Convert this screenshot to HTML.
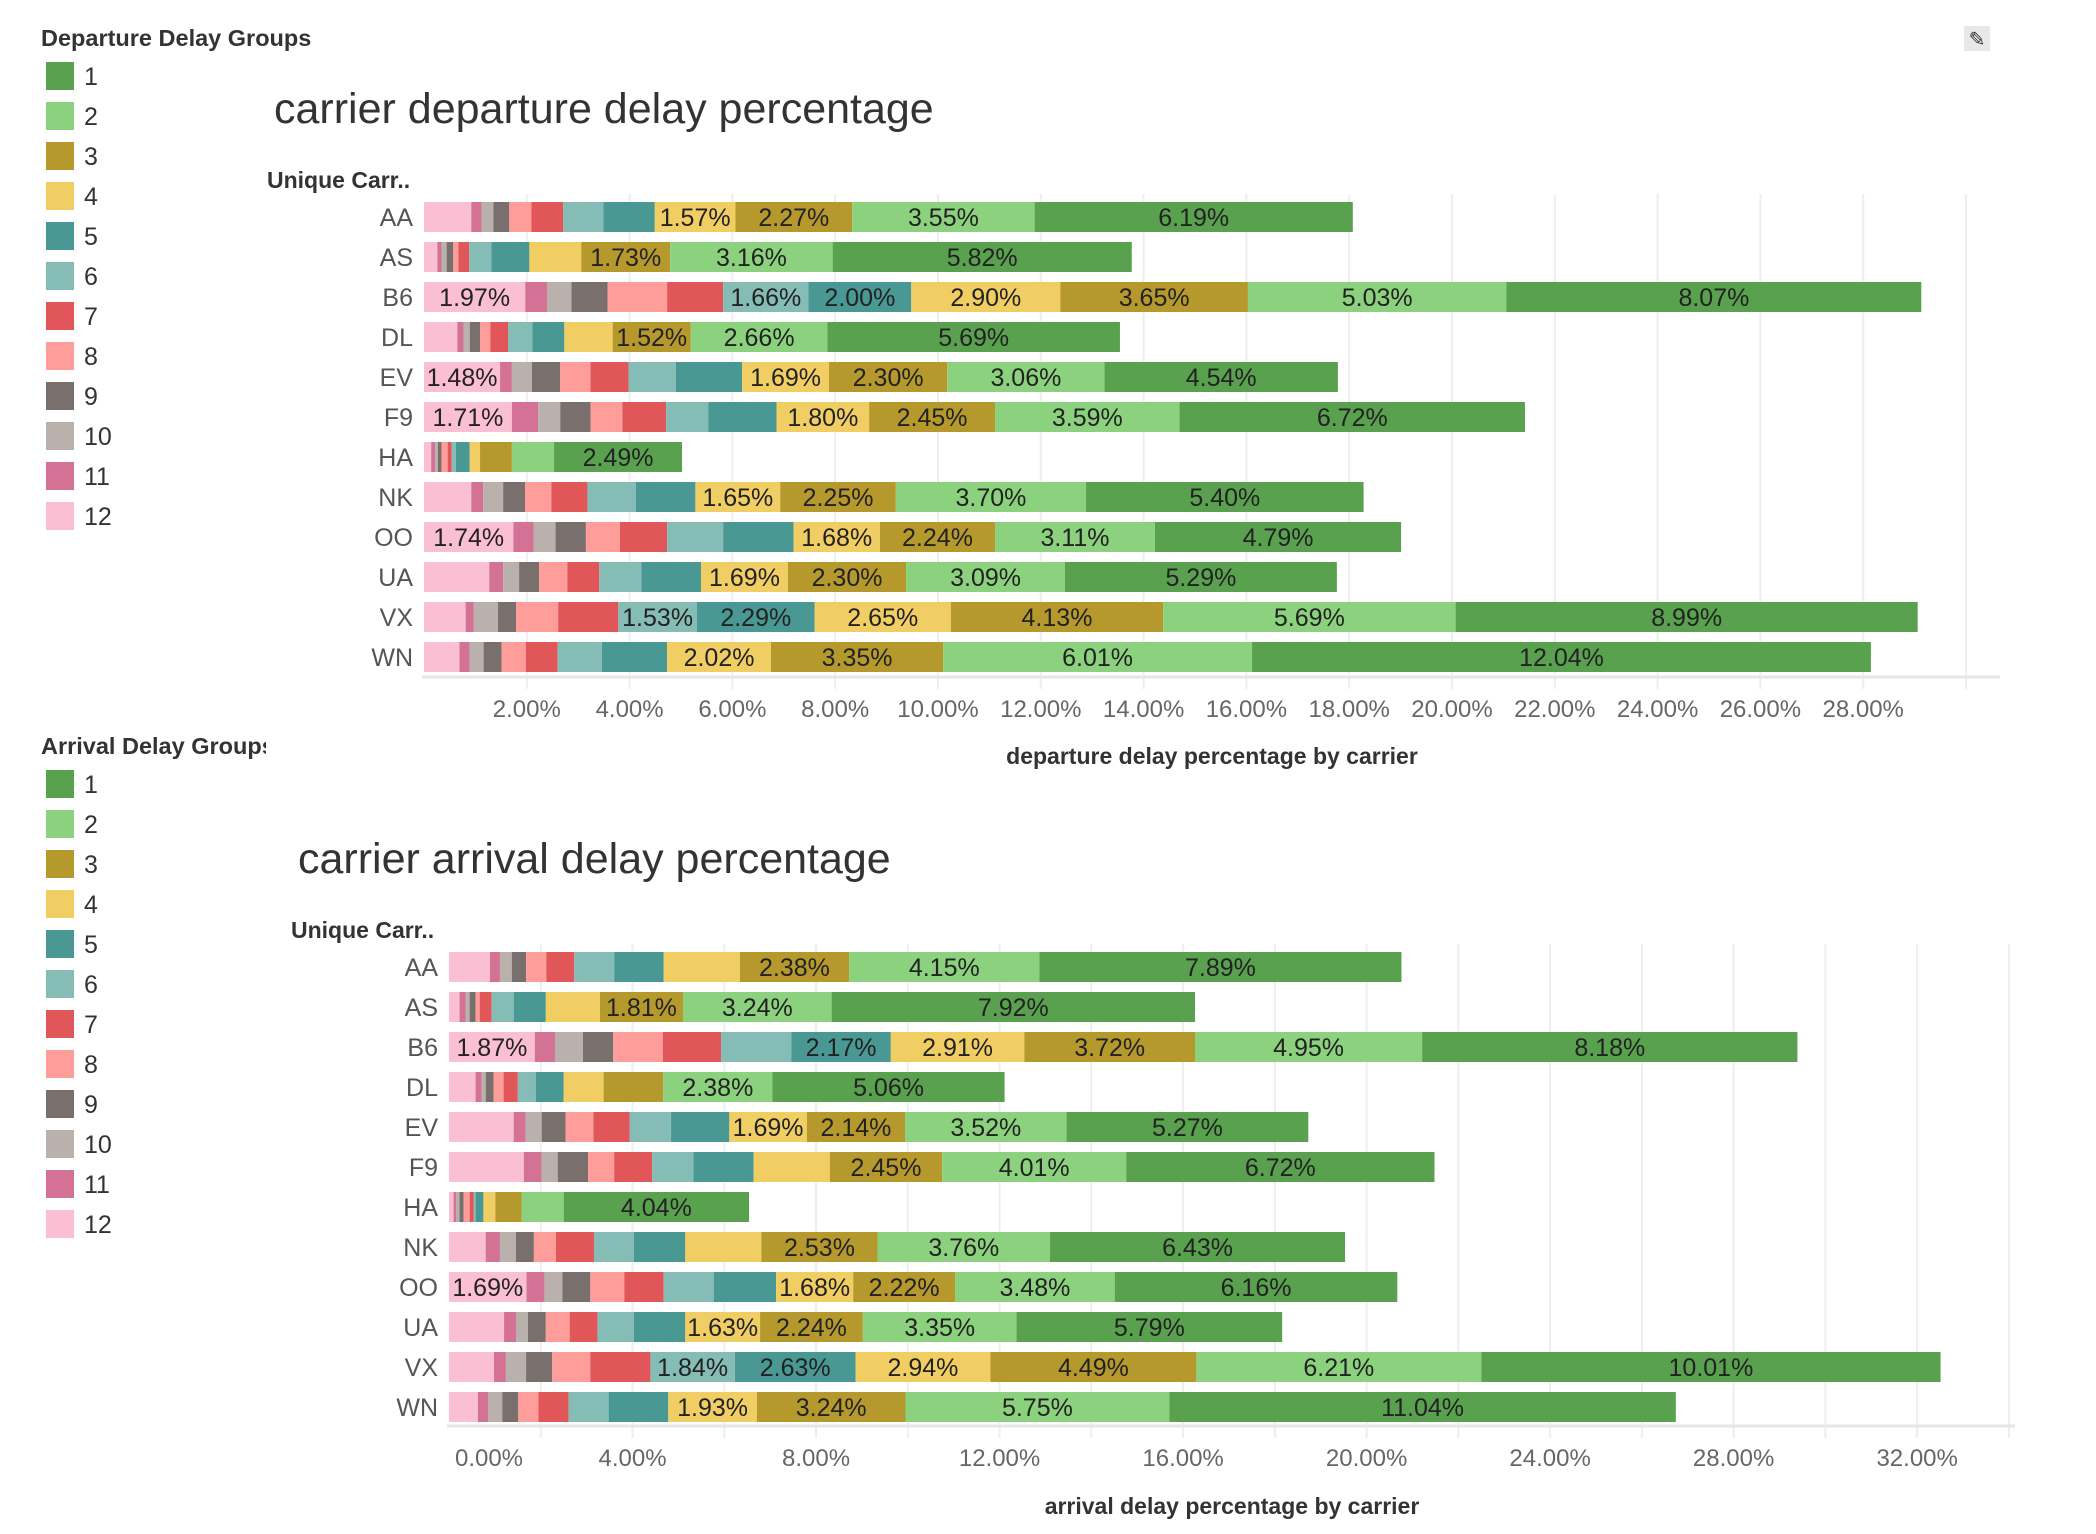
<!DOCTYPE html>
<html><head><meta charset="utf-8">
<style>
html,body{margin:0;padding:0;background:#fff;}
svg{display:block;font-family:"Liberation Sans",sans-serif;}
</style></head>
<body>
<svg id="root" width="2096" height="1534" viewBox="0 0 2096 1534" xmlns="http://www.w3.org/2000/svg">
<g>
<rect x="1964" y="26" width="26" height="25" fill="#e8e8e8"/>
<text x="1977" y="46" font-size="20" text-anchor="middle" fill="#333">✎</text>
</g>
</svg>
<script>
const carriers = ["AA","AS","B6","DL","EV","F9","HA","NK","OO","UA","VX","WN"];
const groups = [12,11,10,9,8,7,6,5,4,3,2,1];
const groupColors = {1:"#59a14f",2:"#8cd17d",3:"#b6992d",4:"#f1ce63",5:"#499894",6:"#86bcb6",7:"#e15759",8:"#ff9d9a",9:"#79706e",10:"#bab0ac",11:"#d37295",12:"#fabfd2"};
// departure values per carrier, ordered by group 12..1
const depAA=[0.92,0.2,0.23,0.31,0.43,0.62,0.78,1.0,1.57,2.27,3.55,6.19];
const depAS=[0.26,0.08,0.1,0.13,0.1,0.21,0.43,0.74,1.01,1.73,3.16,5.82];
const depB6=[1.97,0.43,0.47,0.7,1.16,1.09,1.66,2.00,2.90,3.65,5.03,8.07];
const depDL=[0.65,0.12,0.12,0.2,0.2,0.35,0.47,0.62,0.94,1.52,2.66,5.69];
const depEV=[1.48,0.23,0.39,0.55,0.59,0.74,0.92,1.29,1.69,2.30,3.06,4.54];
const depF9=[1.71,0.51,0.43,0.59,0.62,0.85,0.82,1.33,1.80,2.45,3.59,6.72];
const depHA=[0.14,0.08,0.05,0.07,0.12,0.08,0.08,0.27,0.2,0.62,0.82,2.49];
const depNK=[0.92,0.23,0.39,0.43,0.51,0.7,0.94,1.16,1.65,2.25,3.70,5.40];
const depOO=[1.74,0.39,0.43,0.59,0.66,0.92,1.09,1.37,1.68,2.24,3.11,4.79];
const depUA=[1.27,0.27,0.31,0.39,0.55,0.62,0.82,1.16,1.69,2.30,3.09,5.29];
const depVX=[0.81,0.16,0.47,0.35,0.82,1.17,1.53,2.29,2.65,4.13,5.69,8.99];
const depWN=[0.69,0.2,0.27,0.35,0.47,0.62,0.86,1.27,2.02,3.35,6.01,12.04];
const depTicks=["2.00%","4.00%","6.00%","8.00%","10.00%","12.00%","14.00%","16.00%","18.00%","20.00%","22.00%","24.00%","26.00%","28.00%"];
const depTickValues=[2,4,6,8,10,12,14,16,18,20,22,24,26,28];
// arrival values per carrier, ordered by group 12..1
const arrAA=[0.89,0.22,0.26,0.31,0.44,0.61,0.87,1.08,1.66,2.38,4.15,7.89];
const arrAS=[0.23,0.13,0.09,0.13,0.09,0.26,0.48,0.7,1.18,1.81,3.24,7.92];
const arrB6=[1.87,0.44,0.61,0.66,1.08,1.27,1.53,2.17,2.91,3.72,4.95,8.18];
const arrDL=[0.58,0.13,0.09,0.17,0.22,0.31,0.39,0.61,0.87,1.3,2.38,5.06];
const arrEV=[1.41,0.26,0.35,0.52,0.61,0.79,0.9,1.27,1.69,2.14,3.52,5.27];
const arrF9=[1.63,0.39,0.35,0.66,0.57,0.83,0.9,1.31,1.66,2.45,4.01,6.72];
const arrHA=[0.1,0.06,0.07,0.09,0.13,0.09,0.04,0.17,0.26,0.57,0.92,4.04];
const arrNK=[0.8,0.31,0.35,0.39,0.48,0.83,0.87,1.12,1.66,2.53,3.76,6.43];
const arrOO=[1.69,0.39,0.39,0.61,0.74,0.86,1.09,1.36,1.68,2.22,3.48,6.16];
const arrUA=[1.2,0.26,0.26,0.39,0.52,0.61,0.79,1.12,1.63,2.24,3.35,5.79];
const arrVX=[0.98,0.26,0.44,0.57,0.83,1.31,1.84,2.63,2.94,4.49,6.21,10.01];
const arrWN=[0.63,0.22,0.31,0.35,0.44,0.66,0.87,1.3,1.93,3.24,5.75,11.04];
const arrTicks=["0.00%","4.00%","8.00%","12.00%","16.00%","20.00%","24.00%","28.00%","32.00%"];
const arrTickValues=[0,4,8,12,16,20,24,28,32];
const arrHiddenLabels=["AA-4","F9-4","NK-4","F9-12"];

const depData=[depAA,depAS,depB6,depDL,depEV,depF9,depHA,depNK,depOO,depUA,depVX,depWN];
const arrData=[arrAA,arrAS,arrB6,arrDL,arrEV,arrF9,arrHA,arrNK,arrOO,arrUA,arrVX,arrWN];

const NS="http://www.w3.org/2000/svg";
const root=document.getElementById("root");
function mk(tag,attrs,parent){const e=document.createElementNS(NS,tag);for(const k in attrs)e.setAttribute(k,attrs[k]);(parent||root).appendChild(e);return e;}

function legend(title,titleBase,swTop,clipW){
  const g=mk("g",{});
  
  
  const t=mk("text",{x:41,y:titleBase,"font-size":23.5,"font-weight":"bold",fill:"#333"},g);
  t.textContent=title;
  
  
  if(clipW){const cp=mk("clipPath",{id:"lc"+titleBase},g);mk("rect",{x:0,y:titleBase-30,width:clipW,height:40},cp);t.setAttribute("clip-path","url(#lc"+titleBase+")");}
  for(let i=0;i<12;i++){
    const gr=i+1;
    const it=mk("g",{},g);
    
    
    const top=swTop+i*40;
    mk("rect",{x:46,y:top,width:28,height:28,fill:groupColors[gr]},it);
    const lt=mk("text",{x:84,y:top+23,"font-size":25,fill:"#333"},it);
    lt.textContent=String(gr);
  }
}
legend("Departure Delay Groups",46,62,0);
legend("Arrival Delay Groups",762-8,770,266);

function chart(cfg){
  const g=mk("g",{});
  
  
  const xs=v=>cfg.x0+v*cfg.ppu;
  const t=mk("text",{x:cfg.titleX,y:cfg.titleY,"font-size":43,fill:"#333"},g);
  t.textContent=cfg.title;
  
  
  const h=mk("text",{x:cfg.headX,y:cfg.headY,"font-size":23,"font-weight":"bold",fill:"#333"},g);
  h.textContent="Unique Carr..";
  
  
  for(let v=cfg.gridStart;v<=cfg.gridMax;v+=2){
    const l=mk("line",{x1:xs(v),x2:xs(v),y1:cfg.rowTop-8,y2:cfg.axisY+12,stroke:"#eeeeee","stroke-width":2},g);
    
    
  }
  const ax=mk("line",{x1:cfg.x0-2,x2:cfg.axisEnd,y1:cfg.axisY,y2:cfg.axisY,stroke:"#e6e6e6","stroke-width":3},g);
  
  
  for(let r=0;r<carriers.length;r++){
    const top=cfg.rowTop+r*cfg.pitch;
    const cl=mk("text",{x:cfg.labelRight,y:top+cfg.barH/2+9,"font-size":25,fill:"#555","text-anchor":"end"},g);
    cl.textContent=carriers[r];
    
    
    let acc=0;
    const vals=cfg.data[r];
    for(let k=0;k<groups.length;k++){
      const v=vals[k];
      const rc=mk("rect",{x:xs(acc),y:top,width:Math.max(0,v*cfg.ppu),height:cfg.barH,fill:groupColors[groups[k]]},g);
      
      
      const key=carriers[r]+"-"+groups[k];
      if(v>=cfg.labelMin && cfg.hidden.indexOf(key)<0){
        const lb=mk("text",{x:xs(acc+v/2),y:top+cfg.barH/2+9,"font-size":25,fill:"#222","text-anchor":"middle"},g);
        lb.textContent=v.toFixed(2)+"%";
        
        
      }
      acc+=v;
    }
  }
  for(let i=0;i<cfg.ticks.length;i++){
    let x=xs(cfg.tickValues[i]);
    if(cfg.tickValues[i]===0) x+=40;
    const tl=mk("text",{x:x,y:cfg.axisY+40,"font-size":24,fill:"#666","text-anchor":"middle"},g);
    tl.textContent=cfg.ticks[i];
    
    
  }
  const at=mk("text",{x:cfg.axisTitleX,y:cfg.axisTitleY,"font-size":23,"font-weight":"bold",fill:"#333","text-anchor":"middle"},g);
  at.textContent=cfg.axisTitle;
  
  
}

chart({name:"departure-chart",title:"carrier departure delay percentage",titleX:274,titleY:123,headX:267,headY:188,
  x0:424,ppu:51.4,rowTop:202,pitch:40,barH:30,labelRight:413,axisY:677,axisEnd:2000,gridStart:2,gridMax:30,
  data:depData,ticks:depTicks,tickValues:depTickValues,labelMin:1.4,hidden:[],
  axisTitle:"departure delay percentage by carrier",axisTitleX:1212,axisTitleY:764});
chart({name:"arrival-chart",title:"carrier arrival delay percentage",titleX:298,titleY:873,headX:291,headY:938,
  x0:449,ppu:45.88,rowTop:952,pitch:40,barH:30,labelRight:438,axisY:1426,axisEnd:2015,gridStart:2,gridMax:34,
  data:arrData,ticks:arrTicks,tickValues:arrTickValues,labelMin:1.6,hidden:arrHiddenLabels,
  axisTitle:"arrival delay percentage by carrier",axisTitleX:1232,axisTitleY:1514});
</script>
</body></html>
